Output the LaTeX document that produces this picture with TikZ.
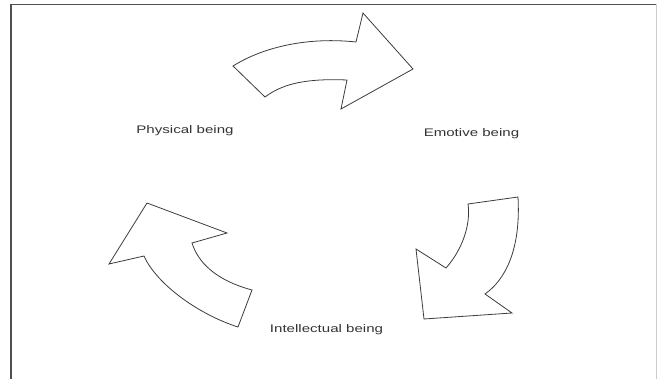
\documentclass[tikz,border=0pt]{standalone}
\usepackage{fontspec}
\setmainfont{Liberation Sans}
\definecolor{linegray}{HTML}{3C3C3C}
\definecolor{textgray}{HTML}{333333}
\definecolor{framegray}{HTML}{505050}
\begin{document}
\begin{tikzpicture}[x=1pt,y=-1pt,
  bigarrow/.style={draw=linegray,line width=0.8pt,line join=miter,fill=white},
  label/.style={font=\fontsize{11}{13}\selectfont,text=textgray,xscale=1.37,transform shape,inner sep=0pt}]
\useasboundingbox (0,0) rectangle (657,379);
% frame
\draw[framegray,line width=1.6pt] (11,379) -- (11,4.5) -- (657,4.5);
\draw[gray!40,line width=1pt] (656,4.5) -- (656,379);
% top arrow
\draw[bigarrow] (233,66) -- (265,97)
  .. controls (280,86) and (300,78) .. (347,80)
  -- (341,109) -- (413,69) -- (363,13) -- (356,42)
  .. controls (310,37) and (265,46) .. (233,66) -- cycle;
% right arrow
\draw[bigarrow] (518,197) -- (468,204)
  .. controls (471,225) and (462,250) .. (446,268)
  -- (416,249) -- (424,319) -- (512,313) -- (485,294)
  .. controls (505,280) and (521,250) .. (518,197) -- cycle;
% left arrow
\draw[bigarrow] (147,203) -- (227,233) -- (192,243)
  .. controls (198,262) and (215,280) .. (252,290)
  -- (238,327)
  .. controls (200,315) and (157,285) .. (144,256)
  -- (109,264) -- cycle;
% labels
\node[label] (phys) at (185,131) {Physical being};
\node[label] (emot) at (471.5,134) {Emotive being};
\node[label] (intel) at (326.5,330) {Intellectual being};
\end{tikzpicture}
\end{document}
